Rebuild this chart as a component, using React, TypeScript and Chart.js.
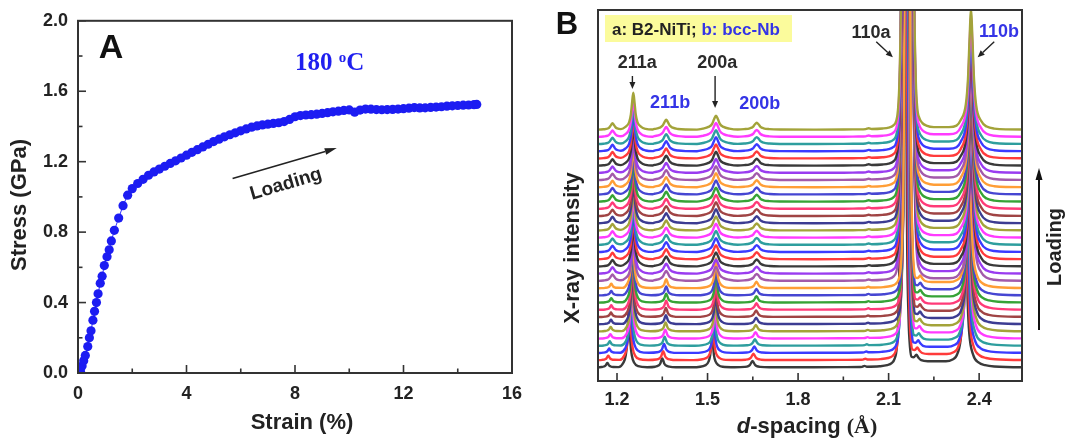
import React, { useEffect, useRef } from "react";
import { Chart, registerables } from "chart.js";

Chart.register(...registerables);

const SANS = '"Liberation Sans", Arial, sans-serif';
const SERIF = '"Liberation Serif", "Times New Roman", serif';

// ---------------- Panel A : stress-strain ----------------
const strainElastic = [0.03, 0.09, 0.15, 0.21, 0.27, 0.36, 0.42, 0.48, 0.55, 0.61, 0.68, 0.74, 0.82, 0.89, 0.97, 1.07, 1.15, 1.23, 1.34, 1.5, 1.66, 1.83];
const stressElastic = [0.0, 0.01, 0.04, 0.07, 0.1, 0.15, 0.2, 0.24, 0.3, 0.35, 0.4, 0.45, 0.51, 0.55, 0.61, 0.66, 0.7, 0.75, 0.81, 0.88, 0.95, 1.01];
const strainPlastic = [2.0, 2.2, 2.4, 2.6, 2.8, 3.0, 3.2, 3.4, 3.6, 3.8, 4.0, 4.2, 4.4, 4.6, 4.8, 5.0, 5.2, 5.4, 5.6, 5.8, 6.0, 6.2, 6.4, 6.6, 6.8, 7.0, 7.2, 7.4, 7.6, 7.8, 8.0, 8.2, 8.4, 8.6, 8.8, 9.0, 9.2, 9.4, 9.6, 9.8, 10.0, 10.2, 10.4, 10.6, 10.8, 11.0, 11.2, 11.4, 11.6, 11.8, 12.0, 12.2, 12.4, 12.6, 12.8, 13.0, 13.2, 13.4, 13.6, 13.8, 14.0, 14.2, 14.4, 14.6, 14.7];
const stressPlastic = [1.047, 1.076, 1.1, 1.123, 1.142, 1.158, 1.174, 1.19, 1.205, 1.221, 1.237, 1.253, 1.268, 1.284, 1.299, 1.314, 1.328, 1.341, 1.353, 1.364, 1.375, 1.386, 1.396, 1.403, 1.409, 1.413, 1.417, 1.421, 1.428, 1.44, 1.455, 1.462, 1.465, 1.467, 1.47, 1.474, 1.478, 1.483, 1.487, 1.491, 1.494, 1.481, 1.493, 1.499, 1.498, 1.496, 1.495, 1.496, 1.497, 1.499, 1.501, 1.504, 1.507, 1.505, 1.506, 1.508, 1.51, 1.512, 1.515, 1.517, 1.519, 1.521, 1.522, 1.524, 1.525];

const xTicksA = [0, 4, 8, 12, 16];
const xMinorA = [2, 6, 10, 14];
const yTicksA = [0, 0.4, 0.8, 1.2, 1.6, 2.0];
const yMinorA = [0.2, 0.6, 1.0, 1.4, 1.8];

const arrowTailA = [5.7, 1.104];
const arrowHeadA = [9.54, 1.277];
const loadingLabelA = [7.67, 1.072];
const tempLabelA = [8.0, 1.718];

// ---------------- Panel B : diffraction patterns ----------------
// unloaded / elastic pattern, [d-spacing (Å), intensity]
const profileElastic: [number, number][] = [
  [1.12, 0.3], [1.137, 0.35], [1.148, 0.65], [1.157, 1.2], [1.162, 2.15], [1.165, 3.6], [1.168, 4.8], [1.171, 3.6], [1.174, 2.15], [1.179, 1.2], [1.188, 0.7], [1.205, 0.6],
  [1.221, 4.9], [1.229, 12.4], [1.2335, 25], [1.2363, 44.8], [1.239, 60.4], [1.2417, 44.8], [1.2445, 25], [1.249, 12.4], [1.257, 4.9], [1.27, 1.5], [1.3, 0.5],
  [1.3266, 1.0], [1.3371, 2.1], [1.343, 4.0], [1.3465, 7.0], [1.35, 9.3], [1.3535, 7.0], [1.357, 4.0], [1.3629, 2.1], [1.3734, 1.0], [1.395, 0.45], [1.45, 0.4],
  [1.494, 2.6], [1.5036, 6.3], [1.5088, 12.6], [1.5119, 22.5], [1.515, 30.3], [1.5181, 22.5], [1.5212, 12.6], [1.5264, 6.3], [1.536, 2.6], [1.55, 0.9], [1.59, 0.45],
  [1.623, 0.8], [1.635, 1.6], [1.641, 3.0], [1.645, 5.1], [1.649, 6.8], [1.653, 5.1], [1.657, 3.0], [1.663, 1.6], [1.675, 0.8], [1.705, 0.45],
  [1.85, 0.5], [1.95, 0.6], [2.005, 0.75], [2.012, 0.9], [2.02, 1.8], [2.028, 1.0],
  [2.07, 1.4], [2.095, 2.5], [2.11, 4.5], [2.12, 9], [2.127, 20], [2.132, 50], [2.137, 140], [2.141, 380], [2.145, 1000], [2.149, 3500],
  [2.153, 1000], [2.157, 380], [2.161, 140], [2.166, 50], [2.171, 20], [2.176, 11], [2.184, 10.5], [2.192, 13], [2.199, 10], [2.208, 7.5],
  [2.23, 6.5], [2.29, 6.5], [2.31, 8],
  [2.328, 14], [2.341, 35], [2.346, 66], [2.35, 116], [2.354, 155], [2.358, 116], [2.362, 66], [2.367, 35], [2.38, 13], [2.399, 5],
  [2.42, 2.5], [2.45, 1.2], [2.542, 0.5], [2.56, 0.5],
];
// plastically loaded pattern, [d-spacing (Å), intensity]
const profilePlastic: [number, number][] = [
  [1.12, 0.4], [1.137, 0.45], [1.155, 0.8], [1.1695, 1.6], [1.1755, 3.0], [1.18, 5.0], [1.185, 6.9], [1.19, 5.0], [1.1945, 3.0], [1.2005, 1.7], [1.213, 1.0],
  [1.228, 3.2], [1.24, 7.8], [1.246, 15.6], [1.25, 27.8], [1.254, 37.4], [1.258, 27.8], [1.262, 15.6], [1.268, 7.8], [1.28, 3.2], [1.295, 1.2], [1.318, 0.6],
  [1.324, 1.15], [1.3415, 2.4], [1.3513, 4.5], [1.3571, 7.8], [1.363, 10.4], [1.3689, 7.8], [1.3747, 4.5], [1.3845, 2.4], [1.402, 1.15], [1.43, 0.6], [1.465, 0.5],
  [1.484, 1.5], [1.503, 3.2], [1.515, 6.1], [1.5215, 10.8], [1.528, 14.4], [1.5345, 10.8], [1.541, 6.1], [1.553, 3.2], [1.572, 1.5], [1.6, 0.6],
  [1.6214, 0.95], [1.6402, 1.8], [1.6506, 3.3], [1.6565, 5.6], [1.663, 7.4], [1.6695, 5.6], [1.6754, 3.3], [1.6858, 1.8], [1.7046, 0.95], [1.74, 0.55],
  [1.85, 0.5], [1.95, 0.6], [2.0, 0.75], [2.024, 0.95], [2.034, 1.8], [2.044, 1.1],
  [2.08, 1.6], [2.1, 2.5], [2.115, 4.5], [2.125, 9], [2.131, 20], [2.136, 50], [2.141, 130], [2.147, 350], [2.153, 900], [2.163, 3000],
  [2.173, 900], [2.179, 350], [2.185, 130], [2.19, 50], [2.195, 22], [2.202, 12], [2.212, 7], [2.225, 4.5], [2.25, 3], [2.3, 3], [2.325, 4.5],
  [2.339, 10], [2.356, 26], [2.363, 51], [2.368, 89], [2.373, 120], [2.378, 89], [2.383, 51], [2.39, 25], [2.407, 9], [2.425, 3.5],
  [2.45, 1.5], [2.542, 0.6], [2.56, 0.6],
];
// per pattern (bottom first): which profile, and the peak shift (Å)
const traceProfile = [0, 0, 0, 0, 0, 0, 0, 0, 0, 0, 0, 0, 1, 1, 1, 1, 1, 1, 1, 1, 1, 1, 1, 1, 1, 1, 1, 1, 1, 1, 1, 1, 1, 1];
const traceShift = [0, 0.003, 0.006, 0.008, 0.01, 0.011, 0.012, 0.012, 0.013, 0.013, 0.013, 0.013, 0, 0, 0, 0, 0, 0, 0, 0, 0, 0, 0, 0, 0, 0, 0, 0, 0, 0, 0, 0, 0, 0];
const baseLevel = 13.3;
const stackStep = 7.2;
const traceColors = ["#3a3a3a", "#ff3b3b", "#3b3bff", "#2e9e9e", "#ff3bff", "#a3a33a", "#3c3c92", "#a04444", "#ff3b78", "#36a336", "#4646d2", "#ff9e36", "#a35aaa", "#9a3cf0"];

const xTicksB = [1.2, 1.5, 1.8, 2.1, 2.4];
const xMinorB = [1.35, 1.65, 1.95, 2.25];

const peakLabelsB = ["211a", "200a", "211b", "200b", "110a", "110b"];
const peakLabelPos = [[1.267, 317.7], [1.532, 317.7], [1.376, 278.3], [1.673, 277], [2.042, 347.7], [2.466, 348.7]];
const peakLabelBlue = [false, false, true, true, false, true];
const peakArrowsB = [
  [1.251, 305, 1.251, 292],
  [1.525, 305, 1.525, 273],
  [2.059, 339.3, 2.114, 323.7],
  [2.45, 339.3, 2.395, 323.7],
];

function arrow(ctx: CanvasRenderingContext2D, x1: number, y1: number, x2: number, y2: number, head = 9, half = 3.5, lw = 1.5, color = "#222") {
  const ang = Math.atan2(y2 - y1, x2 - x1);
  const bx = x2 - head * Math.cos(ang);
  const by = y2 - head * Math.sin(ang);
  ctx.strokeStyle = color;
  ctx.fillStyle = color;
  ctx.lineWidth = lw;
  ctx.beginPath();
  ctx.moveTo(x1, y1);
  ctx.lineTo(bx, by);
  ctx.stroke();
  ctx.beginPath();
  ctx.moveTo(x2, y2);
  ctx.lineTo(bx + half * Math.sin(ang), by - half * Math.cos(ang));
  ctx.lineTo(bx - half * Math.sin(ang), by + half * Math.cos(ang));
  ctx.closePath();
  ctx.fill();
}

function seg(ctx: CanvasRenderingContext2D, x1: number, y1: number, x2: number, y2: number) {
  ctx.beginPath();
  ctx.moveTo(x1, y1);
  ctx.lineTo(x2, y2);
  ctx.stroke();
}

const decorA = {
  id: "decorA",
  afterDraw(chart: any) {
    const { ctx, chartArea: ca, scales } = chart;
    const x = scales.x, y = scales.y;
    ctx.save();
    ctx.strokeStyle = "#333";
    ctx.lineWidth = 1.6;
    xTicksA.forEach((v) => { const p = x.getPixelForValue(v); seg(ctx, p, ca.bottom, p, ca.bottom - 8); });
    xMinorA.forEach((v) => { const p = x.getPixelForValue(v); seg(ctx, p, ca.bottom, p, ca.bottom - 4.5); });
    yTicksA.forEach((v) => { const p = y.getPixelForValue(v); seg(ctx, ca.left, p, ca.left + 8, p); });
    yMinorA.forEach((v) => { const p = y.getPixelForValue(v); seg(ctx, ca.left, p, ca.left + 4.5, p); });
    ctx.lineWidth = 2;
    ctx.strokeRect(ca.left, ca.top, ca.right - ca.left, ca.bottom - ca.top);

    ctx.fillStyle = "#111";
    ctx.font = `bold 34px ${SANS}`;
    ctx.textAlign = "center";
    ctx.textBaseline = "middle";
    ctx.fillText("A", ca.left + 33, ca.top + 28);

    ctx.fillStyle = "#1f1fef";
    ctx.textAlign = "left";
    ctx.textBaseline = "alphabetic";
    const tx = x.getPixelForValue(tempLabelA[0]);
    const ty = y.getPixelForValue(tempLabelA[1]);
    ctx.font = `bold 25px ${SERIF}`;
    ctx.fillText("180 ", tx, ty);
    let w = ctx.measureText("180 ").width;
    ctx.font = `bold 15px ${SERIF}`;
    ctx.fillText("o", tx + w, ty - 8);
    w += ctx.measureText("o").width;
    ctx.font = `bold 25px ${SERIF}`;
    ctx.fillText("C", tx + w, ty);

    arrow(ctx, x.getPixelForValue(arrowTailA[0]), y.getPixelForValue(arrowTailA[1]), x.getPixelForValue(arrowHeadA[0]), y.getPixelForValue(arrowHeadA[1]), 12, 3.5, 1.6, "#222");
    ctx.save();
    ctx.translate(x.getPixelForValue(loadingLabelA[0]), y.getPixelForValue(loadingLabelA[1]));
    ctx.rotate((-16.4 * Math.PI) / 180);
    ctx.fillStyle = "#222";
    ctx.font = `bold 19px ${SANS}`;
    ctx.textAlign = "center";
    ctx.textBaseline = "middle";
    ctx.fillText("Loading", 0, 0);
    ctx.restore();

    ctx.fillStyle = "#222";
    ctx.font = `bold 22px ${SANS}`;
    ctx.textAlign = "center";
    ctx.textBaseline = "middle";
    ctx.fillText("Strain (%)", 302, 423);
    ctx.save();
    ctx.translate(20, 205);
    ctx.rotate(-Math.PI / 2);
    ctx.fillText("Stress (GPa)", 0, 0);
    ctx.restore();
    ctx.restore();
  },
};

const decorB = {
  id: "decorB",
  afterDraw(chart: any) {
    const { ctx, chartArea: ca, scales } = chart;
    const x = scales.x, y = scales.y;
    ctx.save();
    ctx.strokeStyle = "#333";
    ctx.lineWidth = 1.6;
    xTicksB.forEach((v) => { const p = x.getPixelForValue(v); seg(ctx, p, ca.bottom, p, ca.bottom - 8); });
    xMinorB.forEach((v) => { const p = x.getPixelForValue(v); seg(ctx, p, ca.bottom, p, ca.bottom - 4.5); });
    ctx.lineWidth = 2;
    ctx.strokeRect(ca.left, ca.top, ca.right - ca.left, ca.bottom - ca.top);

    ctx.fillStyle = "#111";
    ctx.font = `bold 31px ${SANS}`;
    ctx.textAlign = "center";
    ctx.textBaseline = "middle";
    ctx.fillText("B", ca.left - 31, 25);

    ctx.fillStyle = "#fbfb9c";
    ctx.fillRect(ca.left + 7, 15, 187, 27);
    ctx.font = `bold 17px ${SANS}`;
    ctx.textAlign = "left";
    ctx.textBaseline = "alphabetic";
    ctx.fillStyle = "#222";
    const t1 = "a: B2-NiTi; ";
    ctx.fillText(t1, ca.left + 14, 35);
    ctx.fillStyle = "#3434e6";
    ctx.fillText("b: bcc-Nb", ca.left + 14 + ctx.measureText(t1).width, 35);

    ctx.font = `bold 18px ${SANS}`;
    ctx.textAlign = "center";
    ctx.textBaseline = "middle";
    peakLabelsB.forEach((t, i) => {
      ctx.fillStyle = peakLabelBlue[i] ? "#3434e6" : "#2a2a2a";
      ctx.fillText(t, x.getPixelForValue(peakLabelPos[i][0]), y.getPixelForValue(peakLabelPos[i][1]));
    });
    peakArrowsB.forEach((a) => {
      arrow(ctx, x.getPixelForValue(a[0]), y.getPixelForValue(a[1]), x.getPixelForValue(a[2]), y.getPixelForValue(a[3]), 7, 3, 1.4, "#222");
    });

    arrow(ctx, ca.right + 17, 330, ca.right + 17, 168, 12, 3.5, 2, "#111");
    ctx.save();
    ctx.translate(ca.right + 33, 247);
    ctx.rotate(-Math.PI / 2);
    ctx.fillStyle = "#222";
    ctx.font = `bold 20px ${SANS}`;
    ctx.textAlign = "center";
    ctx.textBaseline = "middle";
    ctx.fillText("Loading", 0, 0);
    ctx.restore();

    ctx.fillStyle = "#222";
    ctx.font = `bold 22px ${SANS}`;
    ctx.textAlign = "center";
    ctx.textBaseline = "middle";
    ctx.save();
    ctx.translate(ca.left - 25, 248);
    ctx.rotate(-Math.PI / 2);
    ctx.fillText("X-ray intensity", 0, 0);
    ctx.restore();

    const cx = (ca.left + ca.right) / 2 - 3;
    const cy = 427;
    const p1 = "d";
    const p2 = "-spacing ";
    const p3 = "(Å)";
    ctx.font = `italic bold 22px ${SANS}`;
    const w1 = ctx.measureText(p1).width;
    ctx.font = `bold 22px ${SANS}`;
    const w2 = ctx.measureText(p2).width;
    ctx.font = `bold 22px ${SERIF}`;
    const w3 = ctx.measureText(p3).width;
    let sx = cx - (w1 + w2 + w3) / 2;
    ctx.textAlign = "left";
    ctx.font = `italic bold 22px ${SANS}`;
    ctx.fillText(p1, sx, cy);
    sx += w1;
    ctx.font = `bold 22px ${SANS}`;
    ctx.fillText(p2, sx, cy);
    sx += w2;
    ctx.font = `bold 22px ${SERIF}`;
    ctx.fillText(p3, sx, cy);
    ctx.restore();
  },
};

const tickFont = { family: SANS, size: 18, weight: "bold" as const };

export default function App() {
  const refA = useRef<HTMLCanvasElement>(null);
  const refB = useRef<HTMLCanvasElement>(null);

  useEffect(() => {
    const pointsA = [
      ...strainElastic.map((e, i) => ({ x: e, y: stressElastic[i] })),
      ...strainPlastic.map((e, i) => ({ x: e, y: stressPlastic[i] })),
    ];
    const chartA = new Chart(refA.current as HTMLCanvasElement, {
      type: "scatter",
      data: {
        datasets: [
          {
            data: pointsA,
            showLine: true,
            borderColor: "#3333ff",
            borderWidth: 1,
            pointRadius: 4.6,
            pointBorderWidth: 0,
            pointBackgroundColor: "#1c1cf2",
            backgroundColor: "#1c1cf2",
          },
        ],
      },
      options: {
        animation: false,
        responsive: true,
        maintainAspectRatio: false,
        layout: { padding: { top: 18, right: 28, bottom: 0, left: 0 } },
        plugins: { legend: { display: false }, tooltip: { enabled: false } },
        scales: {
          x: {
            type: "linear",
            min: 0,
            max: 16,
            afterBuildTicks: (s: any) => { s.ticks = xTicksA.map((v) => ({ value: v })); },
            afterFit: (s: any) => { s.height = 68; },
            ticks: { font: tickFont, color: "#222", padding: 10, maxRotation: 0, callback: (v: any) => String(v) },
            grid: { display: false, drawTicks: false },
            border: { display: false },
          },
          y: {
            type: "linear",
            min: 0,
            max: 2,
            afterBuildTicks: (s: any) => { s.ticks = yTicksA.map((v) => ({ value: v })); },
            afterFit: (s: any) => { s.width = 78; },
            ticks: { font: tickFont, color: "#222", padding: 10, callback: (v: any) => Number(v).toFixed(1) },
            grid: { display: false, drawTicks: false },
            border: { display: false },
          },
        },
      },
      plugins: [decorA],
    });

    const n = traceShift.length;
    const datasetsB = traceShift.map((shift, i) => {
      const prof = traceProfile[i] === 1 ? profilePlastic : profileElastic;
      const base = baseLevel + i * stackStep;
      return {
        data: prof.map((p) => ({ x: p[0] + shift, y: p[1] + base })),
        borderColor: traceColors[i % traceColors.length],
        borderWidth: 2.4,
        pointRadius: 0,
        fill: false,
        cubicInterpolationMode: "monotone" as const,
        order: n - i,
      };
    });

    const chartB = new Chart(refB.current as HTMLCanvasElement, {
      type: "line",
      data: { datasets: datasetsB },
      options: {
        animation: false,
        responsive: true,
        maintainAspectRatio: false,
        layout: { padding: { top: 10, right: 51, bottom: 0, left: 58 } },
        plugins: { legend: { display: false }, tooltip: { enabled: false } },
        scales: {
          x: {
            type: "linear",
            min: 1.137,
            max: 2.542,
            afterBuildTicks: (s: any) => { s.ticks = xTicksB.map((v) => ({ value: v })); },
            afterFit: (s: any) => { s.height = 60; },
            ticks: { font: tickFont, color: "#222", padding: 8, maxRotation: 0, callback: (v: any) => Number(v).toFixed(1) },
            grid: { display: false, drawTicks: false },
            border: { display: false },
          },
          y: {
            type: "linear",
            display: false,
            min: 0,
            max: 371,
          },
        },
      },
      plugins: [decorB],
    });

    return () => {
      chartA.destroy();
      chartB.destroy();
    };
  }, []);

  return (
    <div style={{ position: "fixed", left: 0, top: 0, width: 1073, height: 441, background: "#fff" }}>
      <div style={{ position: "absolute", left: 0, top: 0, width: 540, height: 441 }}>
        <canvas ref={refA} />
      </div>
      <div style={{ position: "absolute", left: 540, top: 0, width: 533, height: 441 }}>
        <canvas ref={refB} />
      </div>
    </div>
  );
}
